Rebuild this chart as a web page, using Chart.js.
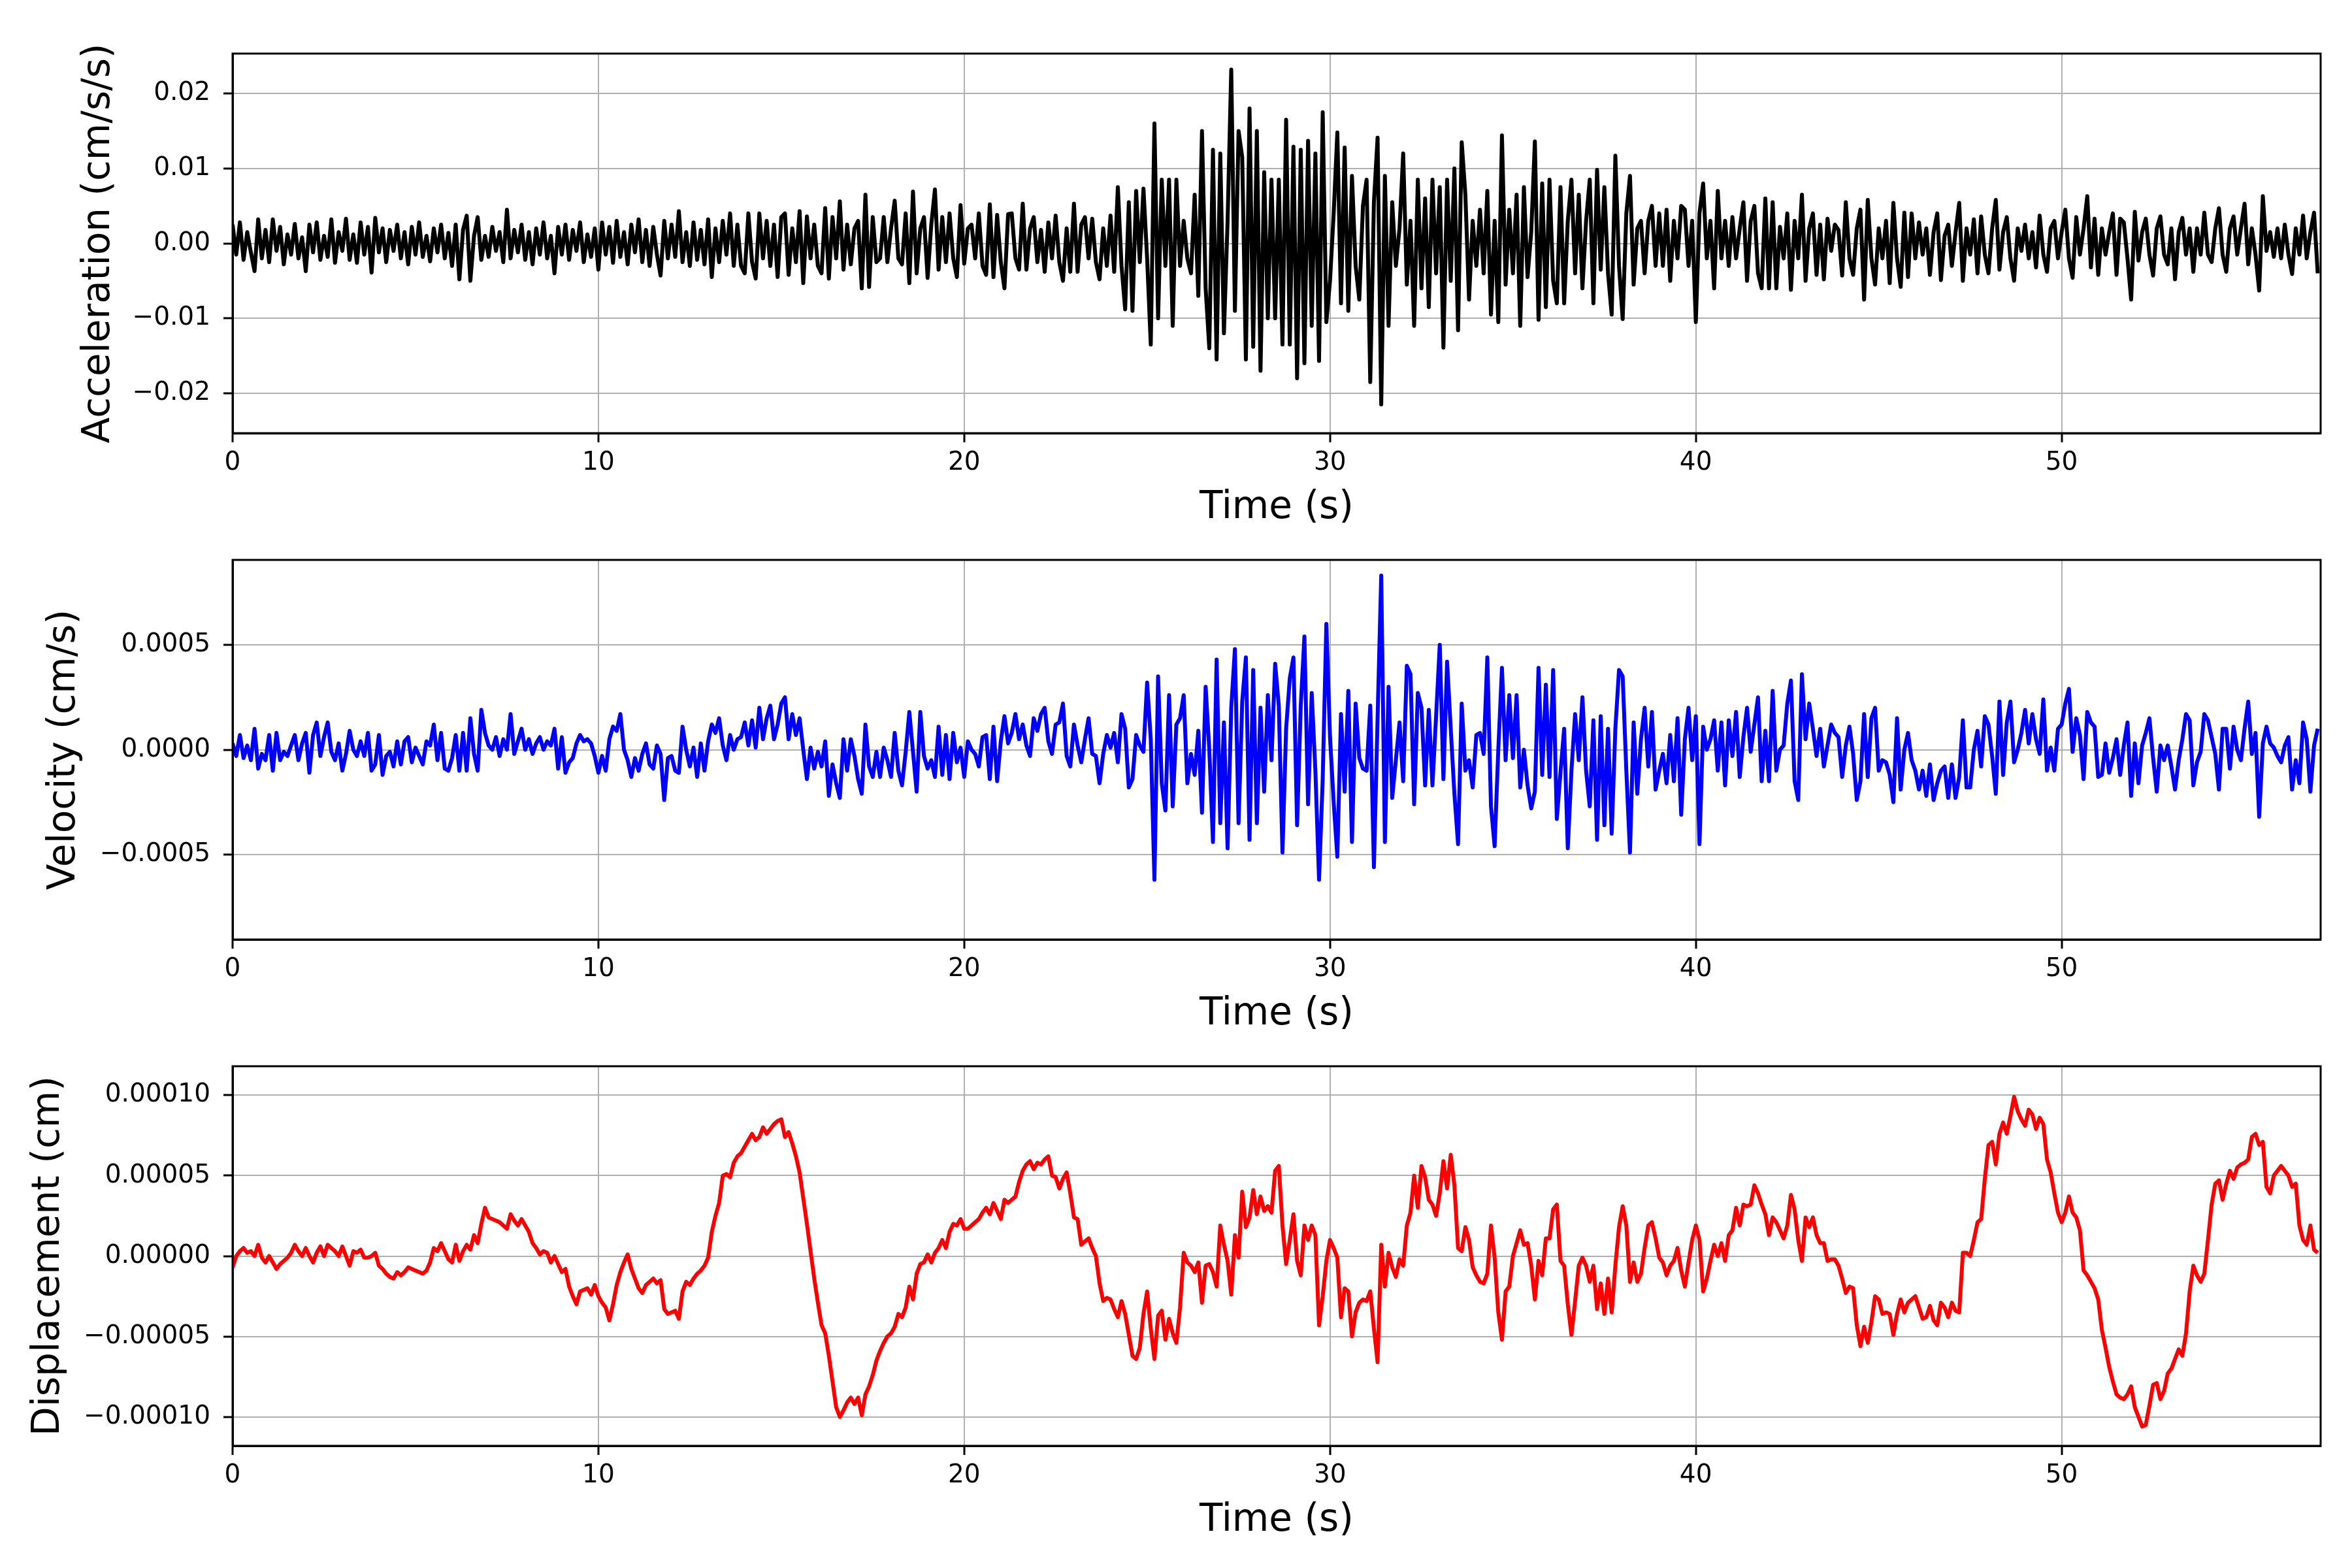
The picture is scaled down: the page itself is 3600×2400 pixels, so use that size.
<!DOCTYPE html>
<html>
<head>
<meta charset="utf-8">
<script src="https://cdn.jsdelivr.net/npm/chart.js@4.4.1/dist/chart.umd.min.js"></script>
<style>
  html, body { margin: 0; padding: 0; background: #fff; }
  .panel { position: absolute; left: 0; width: 3600px; height: 800px; }
</style>
</head>
<body>
<div class="panel" style="top:0px"><canvas id="accChart"></canvas></div>
<div class="panel" style="top:775px"><canvas id="velChart"></canvas></div>
<div class="panel" style="top:1550px"><canvas id="dispChart"></canvas></div>
<script>
// sample step (s) and time axis
const dt = 0.1;
const tMax = 57.08;
const timeTicks = [0, 10, 20, 30, 40, 50];

// acceleration, in 0.001 cm/s/s, one row per second
const accel = [
  2.5, -1.5, 2.8, -2.2, 1.5, -1.2, -3.7, 3.2, -2.0, 1.8,
  -2.5, 3.2, -1.0, 2.2, -2.8, 1.2, -1.5, 2.6, -2.0, 0.8,
  -3.7, 2.5, -1.2, 2.8, -2.2, 1.0, -1.8, 3.2, -2.6, 1.5,
  -1.0, 3.3, -2.2, 1.2, -2.6, 2.8, -1.5, 2.2, -3.9, 3.4,
  -1.2, 2.0, -2.5, 1.8, -1.0, 2.5, -2.0, 1.5, -2.8, 2.2,
  -1.5, 2.8, -1.8, 1.0, -2.4, 2.0, -1.2, 2.5, -2.0, 1.4,
  -3.0, 2.5, -4.8, 1.8, 3.7, -5.0, 1.0, 3.5, -2.2, 1.0,
  -1.8, 2.2, -1.0, 1.5, -2.5, 4.5, -2.0, 1.8, -1.2, 2.5,
  -2.2, 1.5, -2.8, 2.0, -1.5, 2.8, -2.0, 1.0, -4.0, 2.2,
  -1.5, 2.5, -2.2, 1.8, -1.0, 2.8, -2.5, 1.2, -1.8, 2.0,
  -3.5, 2.8, -1.5, 2.2, -2.6, 3.0, -1.8, 1.5, -2.8, 2.5,
  -1.2, 3.2, -2.5, 1.8, -3.0, 2.2, -1.5, -4.3, 3.0, -2.0,
  2.5, -1.8, 4.3, -2.5, 1.5, -3.0, 2.8, -2.2, 1.8, -2.8,
  3.2, -4.5, 2.0, -2.5, 3.0, -1.5, 4.0, -3.0, 2.5, -3.0,
  -4.0, 4.0, -2.5, -4.7, 4.0, -2.0, 3.0, -3.0, 2.5, -4.5,
  3.5, 4.0, -4.2, 2.0, -2.5, 4.3, -5.3, 3.6, -2.0, 2.5,
  -3.0, -4.0, 4.7, -4.7, 3.5, -2.0, 5.6, -3.5, 2.5, -2.8,
  2.0, 3.0, -6.0, 6.5, -5.8, 3.5, -2.5, -2.0, 3.5, -2.5,
  2.0, 5.7, -2.0, -2.8, 4.0, -5.3, 6.9, -4.0, 2.0, 3.5,
  -4.6, 2.5, 7.2, -3.5, 3.5, -2.5, 4.0, -2.0, -4.5, 5.1,
  -2.7, 2.0, 2.5, -2.0, 4.0, -3.0, -4.2, 5.2, -4.5, 3.8,
  -2.5, -6.0, 3.9, 4.0, -2.0, -3.5, 5.3, -3.5, 2.0, 3.5,
  -2.5, 1.8, -3.8, 2.8, -2.0, 3.7, -2.5, -5.0, 2.0, -3.8,
  5.3, -3.8, 2.5, 3.5, -2.0, 3.3, -2.5, -4.8, 2.0, -3.0,
  3.7, -3.8, 7.5, -3.0, -8.8, 5.5, -9.0, 7.0, -2.5, 7.3,
  -2.0, -13.5, 16.0, -10.0, 8.5, -3.0, 8.5, -11.0, 8.5, -3.0,
  3.0, -2.0, -4.0, 6.5, -7.0, 15.0, -6.0, -14.0, 12.5, -15.5,
  12.0, -12.0, 3.0, 23.2, -9.0, 15.0, 11.5, -15.5, 18.0, -13.8,
  15.0, -17.0, 9.5, -10.0, 8.5, -10.0, 8.5, -13.5, 16.5, -13.5,
  12.9, -18.0, 12.5, -16.0, 13.7, -11.0, 12.0, -15.7, 17.5, -10.5,
  -5.0, 4.0, 14.8, -8.0, 12.8, -9.0, 9.0, -3.0, -7.5, 5.0,
  8.5, -18.5, 5.5, 14.1, -21.5, 9.0, -11.0, 5.5, -3.0, 2.0,
  12.0, -5.5, 3.0, -11.0, 8.5, -6.0, 6.0, -8.5, 8.5, -4.0,
  7.5, -13.9, 8.5, -5.0, 10.0, -11.6, 13.5, 6.5, -7.5, 3.0,
  -3.0, 4.5, -4.0, 7.0, -9.5, 3.0, -10.5, 14.4, -5.5, 4.5,
  -4.0, 6.5, -11.0, 7.5, -4.5, 1.5, 13.6, -10.2, 8.0, -8.5,
  8.5, -5.0, -8.0, 7.5, -8.0, 3.0, 8.5, -4.0, 6.5, -6.0,
  3.0, 8.5, -8.0, 9.8, -3.5, 7.5, -4.0, -9.5, 11.7, -3.0,
  -10.1, 4.0, 9.0, -5.5, 2.0, 3.0, -4.0, 3.0, 5.0, -3.0,
  4.0, -3.0, 4.5, -5.0, 3.0, -2.0, 5.0, 4.5, -3.0, 3.0,
  -10.5, 4.0, 8.0, -2.0, 3.0, -6.0, 7.0, -2.0, 3.0, -3.0,
  3.5, -2.0, 2.0, 5.5, -5.0, 3.0, 5.0, -4.0, -6.0, 6.0,
  -6.0, 5.5, -6.0, 2.2, -2.0, 4.0, -6.2, 3.0, -2.0, 6.5,
  -5.0, 2.0, 4.0, -4.2, 2.5, -4.8, 3.3, -1.0, 2.5, 1.8,
  -4.3, 5.5, -2.0, -4.2, 2.0, 4.5, -7.5, 5.8, -2.0, -5.5,
  2.0, -2.0, 3.0, -5.3, 5.4, -2.0, -5.8, 4.1, -4.5, 4.0,
  -2.0, 2.8, -1.5, 2.0, -4.2, 1.5, 4.0, -4.9, 1.0, 2.5,
  -3.0, 1.5, 5.4, -5.0, 2.0, -1.5, 3.2, -4.0, 3.6, -1.5,
  -4.0, 2.0, 5.8, -3.5, 1.5, 3.5, -2.0, -5.0, 2.0, -1.0,
  2.5, -2.0, 1.5, -3.2, 3.7, -1.5, -3.8, 2.0, 3.0, -2.0,
  1.5, 4.5, -2.0, -4.6, 3.5, -1.5, 2.0, 6.3, -3.2, 3.3,
  -4.2, 2.0, -1.5, 1.5, 4.0, -4.2, 3.3, 2.8, -2.0, -7.5,
  4.2, -2.3, 1.5, 3.3, -1.5, -4.3, 2.0, 3.6, -1.5, -2.8,
  2.0, -4.8, 1.5, 3.4, -1.5, 2.0, -3.8, 2.0, -1.5, 4.1,
  -1.5, -2.5, 2.0, 4.7, -1.5, -3.8, 2.0, 3.6, -1.5, 2.0,
  5.3, -2.8, 2.0, -1.5, -6.3, 6.3, -1.0, 1.5, -1.8, 2.0,
  -2.0, 2.5, -1.5, -4.1, 2.0, -1.5, 3.7, -2.0, 1.5, 4.1,
  -4.0
];
const accTicks = [-0.02, -0.01, 0, 0.01, 0.02];

// velocity, in 0.00001 cm/s, one row per second
const velocity = [
  3, -3, 7, -4, 2, -5, 10, -9, -2, -5,
  7, -10, 8, -5, -1, -3, 2, 7, -5, 3,
  8, -11, 7, 13, -3, 6, 13, -1, -5, 3,
  -10, -2, 9, 0, -3, 4, -3, 8, -10, -7,
  7, -12, -3, -1, -8, 4, -7, 4, 6, -6,
  1, -3, -7, 4, 2, 12, -5, 8, -9, -10,
  -4, 7, -10, 8, -10, 15, -2, -10, 19, 8,
  2, 0, 6, -3, 5, 0, 17, -2, 4, 10,
  0, 5, -2, 3, 6, 0, 4, 2, 10, -9,
  6, -11, -6, -4, 3, 7, 4, 5, 3, -3,
  -11, -3, -10, 5, 11, 9, 17, 0, -5, -13,
  -4, -10, -2, 3, -7, -9, 2, -2, -24, -4,
  -3, -10, -11, 11, 0, -8, 1, -13, 3, -10,
  4, 12, 8, 15, 2, -5, 7, 0, 5, 6,
  13, 2, 14, 1, 20, 5, 15, 21, 5, 12,
  22, 25, 5, 17, 7, 15, 0, -14, 1, -9,
  -1, -8, 4, -22, -7, -16, -23, 5, -10, 5,
  -3, -14, -21, 12, -8, -13, -1, -13, 1, -5,
  -13, 8, -10, -17, -1, 18, -1, -20, 18, -3,
  -9, -5, -13, 11, -12, 7, -14, 8, -6, 1,
  -13, 4, 0, -2, -8, 6, 7, -14, 11, -15,
  4, 16, 3, 8, 17, 5, 12, 2, -3, 15,
  9, 17, 20, 4, -2, 12, 13, 22, -3, -8,
  12, 2, -6, 5, 15, -2, -3, -16, -2, 7,
  1, 8, -6, 17, 10, -18, -14, 7, 2, -1,
  32, 5, -62, 35, -16, -29, 26, -27, 12, 15,
  26, -16, -2, -12, 9, -30, 30, 0, -44, 43,
  -35, 13, -47, 20, 48, -35, 23, 44, -43, 38,
  -35, 20, -20, 26, -5, 41, 21, -49, 10, 34,
  44, -36, 21, 54, -26, 27, -10, -62, -14, 60,
  6, -25, -51, 17, -20, 28, -44, 22, -4, -9,
  -10, 21, -56, 15, 83, -44, 30, -23, -5, 13,
  -15, 40, 36, -26, 27, 20, -17, 19, -17, 16,
  50, -14, 42, 10, -21, -45, 22, -10, -5, -18,
  7, 8, -2, 44, -27, -46, 0, 39, -5, 26,
  -4, 26, -18, 0, -17, -28, -20, 39, -12, 31,
  -13, 38, -33, -11, 10, -47, -10, 17, -5, 25,
  -10, -27, 14, -43, 16, -36, 10, -40, 10, 38,
  35, -10, -49, 13, -21, 5, 20, -8, 18, -19,
  -10, -2, -16, 7, -15, 15, -31, 5, 20, -5,
  16, -45, 11, 0, 5, 14, -10, 13, -17, 14,
  -3, 18, -13, 6, 20, -1, 12, 25, -15, 9,
  -15, 28, -10, 0, 2, 22, 33, -15, -24, 36,
  5, 22, 10, -3, 10, -8, 2, 12, 8, 6,
  -13, 2, 11, -2, -24, -15, 17, -13, 15, 20,
  -10, -5, -6, -12, -25, 15, -19, 0, 8, -5,
  -10, -19, -10, -22, -7, -24, -16, -10, -8, -23,
  -7, -23, -13, 14, -18, -18, 0, 9, -8, 16,
  12, -3, -21, 23, -12, 13, 23, -6, 0, 8,
  19, 3, 17, 5, -2, 24, -10, 1, -10, 10,
  12, 22, 29, -1, 15, 7, -14, 18, 13, 11,
  -13, -12, 3, -11, -4, 5, -12, 2, 13, -22,
  3, -16, 2, 8, 15, -4, -20, 2, -5, 2,
  -8, -19, -5, 5, 17, 14, -17, -6, -1, 17,
  14, 6, -2, -19, 10, 10, -9, 11, 0, -5,
  10, 23, -2, 8, -32, 3, 11, 3, 1, -3,
  -6, 2, 6, -19, -5, -16, 13, 5, -20, 2,
  10
];
const velTicks = [-0.0005, 0, 0.0005];

// displacement, in 0.000001 cm, one row per second
const displacement = [
  -7, 0, 3, 5, 2, 3, 0, 7, -1, -4,
  0, -4, -8, -5, -3, -1, 2, 7, 3, 0,
  5, 0, -4, 2, 6, 0, 7, 5, 3, 0,
  6, 0, -6, 3, 2, 4, -1, -1, 0, 2,
  -6, -8, -11, -13, -14, -10, -12, -10, -7, -8,
  -9, -10, -11, -9, -4, 5, 3, 8, 3, -2,
  -4, 7, -3, 3, 7, 4, 13, 8, 20, 30,
  24, 23, 22, 21, 19, 17, 26, 22, 19, 23,
  19, 15, 8, 5, 1, 3, 2, -4, 0, -5,
  -10, -8, -19, -25, -30, -22, -21, -20, -24, -18,
  -25, -29, -32, -40, -30, -18, -10, -4, 1, -8,
  -14, -20, -23, -18, -16, -14, -17, -15, -33, -36,
  -35, -34, -39, -22, -16, -18, -14, -11, -9, -6,
  -1, 15, 25, 33, 50, 51, 49, 58, 62, 64,
  68, 72, 76, 72, 74, 80, 76, 79, 82, 84,
  85, 74, 77, 70, 62, 52, 36, 20, 3, -14,
  -29, -43, -48, -62, -78, -94, -100, -96, -91, -88,
  -92, -88, -99, -86, -81, -74, -65, -59, -54, -50,
  -48, -44, -36, -38, -32, -19, -27, -11, -5, -4,
  1, -4, 2, 5, 10, 5, 15, 20, 19, 23,
  17, 17, 19, 21, 23, 27, 30, 26, 33, 28,
  23, 35, 33, 35, 37, 46, 53, 57, 59, 54,
  58, 57, 60, 62, 50, 49, 42, 48, 52, 39,
  24, 23, 7, 9, 11, 5, 0, -17, -28, -26,
  -27, -33, -38, -28, -36, -49, -62, -64, -57, -36,
  -22, -45, -64, -37, -34, -52, -39, -48, -54, -32,
  2, -4, -6, -10, -4, -29, -6, -5, -10, -19,
  19, 7, -3, -24, 13, -1, 40, 18, 24, 41,
  26, 37, 28, 31, 27, 53, 56, 19, -5, 10,
  26, -3, -12, 19, 10, 19, 13, -43, -25, -3,
  10, 5, -1, -38, -20, -22, -50, -35, -29, -27,
  -28, -22, -45, -66, 7, -19, 2, -7, -13, -2,
  -6, 19, 27, 50, 30, 56, 49, 35, 32, 25,
  39, 59, 42, 63, 44, 5, 3, 18, 10, -7,
  -12, -16, -17, -11, 19, -1, -35, -52, -22, -19,
  0, 8, 16, 7, 8, -6, -27, -3, -12, 11,
  11, 29, 32, -3, -6, -30, -49, -28, -6, -1,
  -6, -16, -6, -33, -17, -36, -14, -35, -6, 18,
  31, 19, -16, -4, -16, -11, 5, 19, 21, 11,
  -1, -4, -12, -6, -3, 5, -9, -19, -4, 10,
  19, 10, -22, -14, -3, 7, 0, 8, -3, 13,
  16, 30, 19, 32, 31, 32, 44, 39, 32, 26,
  13, 24, 21, 16, 11, 19, 38, 29, 10, -3,
  24, 18, 24, 13, 8, 8, -3, -2, -2, -6,
  -14, -23, -19, -20, -43, -56, -44, -54, -41, -25,
  -27, -36, -35, -36, -49, -36, -27, -35, -29, -27,
  -25, -32, -39, -38, -31, -40, -43, -29, -32, -38,
  -29, -34, -35, 2, 2, 0, 10, 21, 23, 48,
  69, 71, 57, 76, 83, 76, 87, 99, 90, 85,
  81, 91, 88, 79, 86, 82, 60, 52, 39, 27,
  21, 27, 37, 27, 24, 16, -9, -12, -16, -20,
  -27, -46, -57, -69, -78, -86, -88, -89, -86, -81,
  -94, -100, -106, -105, -93, -80, -79, -89, -84, -73,
  -70, -64, -58, -62, -48, -22, -6, -12, -16, -11,
  10, 32, 45, 47, 35, 45, 53, 48, 55, 57,
  58, 60, 74, 76, 69, 71, 43, 39, 50, 53,
  56, 53, 50, 43, 45, 19, 10, 7, 19, 4,
  2
];
const dispTicks = [-0.0001, -0.00005, 0, 0.00005, 0.0001];

Chart.defaults.font.family = "'DejaVu Sans', sans-serif";
Chart.defaults.color = '#000';

// box around the plot area, like the matplotlib frame
const framePlugin = {
  id: 'frame',
  afterDraw(chart) {
    const { ctx, chartArea: a } = chart;
    ctx.save();
    ctx.strokeStyle = '#000';
    ctx.lineWidth = 3;
    ctx.strokeRect(a.left, a.top, a.right - a.left, a.bottom - a.top);
    ctx.restore();
  }
};

function fmt(v, d) {
  return (Math.abs(v) < 1e-12 ? 0 : v).toFixed(d).replace('-', '\u2212');
}

function makeChart(id, values, unit, color, label, yTicks, lim, dec, titlePad) {
  const pts = values.map((v, i) => ({ x: +(i * dt).toFixed(1), y: v * unit }));
  const grid = { color: '#b0b0b0', lineWidth: 2, tickColor: '#000', tickLength: 14, tickWidth: 3 };
  const border = { display: true, color: '#000', width: 3 };
  new Chart(document.getElementById(id), {
    type: 'line',
    data: {
      datasets: [{
        data: pts,
        borderColor: color,
        borderWidth: 6,
        borderJoinStyle: 'round',
        pointRadius: 0,
        tension: 0,
        fill: false
      }]
    },
    options: {
      responsive: true,
      maintainAspectRatio: false,
      animation: false,
      devicePixelRatio: 1,
      layout: { padding: { top: 82, right: 48, left: 0, bottom: 0 } },
      plugins: { legend: { display: false }, tooltip: { enabled: false } },
      scales: {
        x: {
          type: 'linear', min: 0, max: tMax,
          afterBuildTicks: s => { s.ticks = timeTicks.map(v => ({ value: v })); },
          afterFit: s => { s.height = 137; },
          grid: grid, border: border,
          ticks: { color: '#000', font: { size: 39 }, padding: 8, maxRotation: 0, callback: v => String(v) },
          title: { display: true, text: 'Time (s)', color: '#000', font: { size: 58, lineHeight: 0.75 }, padding: { top: 0, bottom: 0 } }
        },
        y: {
          min: -lim, max: lim,
          afterBuildTicks: s => { s.ticks = yTicks.map(v => ({ value: v })); },
          afterFit: s => { s.width = 356; },
          grid: grid, border: border,
          ticks: { color: '#000', font: { size: 39 }, padding: 20, callback: v => fmt(v, dec) },
          title: { display: true, text: label, color: '#000', font: { size: 58, lineHeight: 1 }, padding: { top: titlePad, bottom: 0 } }
        }
      }
    },
    plugins: [framePlugin]
  });
}

makeChart('accChart', accel, 1e-3, '#000000', 'Acceleration (cm/s/s)', accTicks, 0.02533, 2, 123);
makeChart('velChart', velocity, 1e-5, '#0000ff', 'Velocity (cm/s)', velTicks, 0.000905, 4, 70);
makeChart('dispChart', displacement, 1e-6, '#ff0000', 'Displacement (cm)', dispTicks, 0.000118, 5, 46);
</script>
</body>
</html>
